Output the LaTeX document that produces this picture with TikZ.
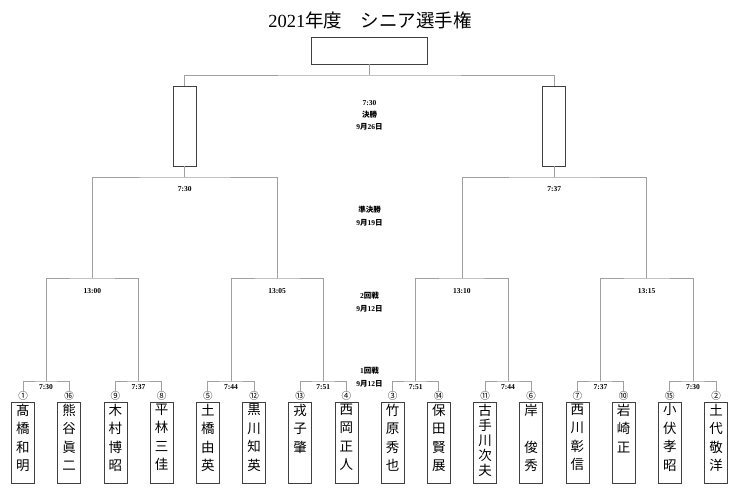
\documentclass[tikz,border=0pt]{standalone}
\usepackage{fontspec}
\setmainfont{Liberation Serif}
\newfontfamily\jp{Noto Sans CJK JP}
\usetikzlibrary{positioning}
\definecolor{linegray}{HTML}{A0A0A0}
\definecolor{boxgray}{HTML}{404040}
\newcommand\jpt[1]{{\jp #1}}
\tikzset{line/.style={draw=linegray,line width=0.7pt}}

\begin{document}
\begin{tikzpicture}[x=1pt,y=-1pt,
    playerbox/.style={draw=boxgray,line width=0.8pt,minimum width=23pt,minimum height=81pt,inner sep=0pt},
    namestack/.style={align=center,inner sep=0pt,font=\jp\fontsize{13.5}{18.5}\selectfont},
    seed/.style={inner sep=0pt,font=\jp\fontsize{9.5}{9.5}\selectfont},
    matchtime/.style={inner sep=0pt,font=\bfseries\fontsize{7.5}{8}\selectfont},
    roundinfo/.style={inner sep=0pt,font=\bfseries\fontsize{7.5}{8}\selectfont}]
  \useasboundingbox (0,0) rectangle (750,489);

  % title
  \node (title) at (370,20) {\fontsize{18.5}{20}\selectfont 2021\jpt{年度　シニア選手権}};

  % players
  \foreach \i/\sd/\nm in {1/①/{髙\\橋\\和\\明},2/⑯/{熊\\谷\\眞\\二},3/⑨/{木\\村\\博\\昭},4/⑧/{平\\林\\三\\佳},
      5/⑤/{土\\橋\\由\\英},6/⑫/{黒\\川\\知\\英},7/⑬/{戎\\子\\肇},8/④/{西\\岡\\正\\人},
      9/③/{竹\\原\\秀\\也},10/⑭/{保\\田\\賢\\展},11/⑪/{古\\[-3.5pt]手\\[-3.5pt]川\\[-3.5pt]次\\[-3.5pt]夫},12/⑥/{岸\\[18.5pt]俊\\秀},
      13/⑦/{西\\川\\彰\\信},14/⑩/{岩\\崎\\正},15/⑮/{小\\伏\\孝\\昭},16/②/{土\\代\\敬\\洋}}{
    \node[playerbox] (p\i) at ({23+46.2*(\i-1)},442.5) {};
    \node[namestack,below=2pt of p\i.north] (n\i) {\nm};
    \node[seed,above=0.8pt of p\i] (s\i) {\sd};
  }

  % match points
  \foreach \j in {1,...,8}
    \coordinate (a\j) at ({23+46.2*(2*\j-1.5)},381);
  \foreach \k in {1,...,4}
    \coordinate (b\k) at ({23+46.2*(4*\k-2.5)},278);
  \foreach \m in {1,2}
    \coordinate (c\m) at ({23+46.2*(8*\m-4.5)},177);
  \coordinate (d) at (369.5,75);

  \node[playerbox,minimum height=80pt] (f1) at (c1 |- 0,126) {};
  \node[playerbox,minimum height=80pt] (f2) at (c2 |- 0,126) {};
  \node[playerbox,minimum width=116pt,minimum height=27pt] (champ) at (369.5,50.5) {};

  % bracket
  \foreach \j in {1,...,8}{
    \pgfmathtruncatemacro\p{2*\j-1}
    \pgfmathtruncatemacro\q{2*\j}
    \draw[line] (s\p.north) |- (a\j) -| (s\q.north);
  }
  \foreach \k in {1,...,4}{
    \pgfmathtruncatemacro\p{2*\k-1}
    \pgfmathtruncatemacro\q{2*\k}
    \draw[line] (a\p) |- (b\k) -| (a\q);
  }
  \draw[line] (b1) |- (c1) -| (b2);
  \draw[line] (b3) |- (c2) -| (b4);
  \draw[line] (c1) -- (f1.south);
  \draw[line] (c2) -- (f2.south);
  \draw[line] (f1.north) |- (d) -| (f2.north);
  \draw[line] (d) -- (champ.south);

  % times
  \foreach \j/\t in {1/7:30,2/7:37,3/7:44,4/7:51,5/7:51,6/7:44,7/7:37,8/7:30}
    \node[matchtime,below=3pt of a\j] (t\j) {\t};
  \foreach \k/\t in {1/13:00,2/13:05,3/13:10,4/13:15}
    \node[matchtime,below=10pt of b\k] (u\k) {\t};
  \node[matchtime,below=9pt of c1] (v1) {7:30};
  \node[matchtime,below=9pt of c2] (v2) {7:37};

  % rounds
  \node[matchtime] (finaltime) at (369.5,103) {7:30};
  \node[roundinfo] (final) at (369.5,115) {\jpt{決勝}};
  \node[roundinfo] (finaldate) at (369.5,127) {9\jpt{月}26\jpt{日}};
  \node[roundinfo] (semi) at (369.5,210) {\jpt{準決勝}};
  \node[roundinfo] (semidate) at (369.5,223) {9\jpt{月}19\jpt{日}};
  \node[roundinfo] (second) at (369.5,296) {2\jpt{回戦}};
  \node[roundinfo] (seconddate) at (369.5,309) {9\jpt{月}12\jpt{日}};
  \node[roundinfo] (first) at (369.5,371) {1\jpt{回戦}};
  \node[roundinfo] (firstdate) at (369.5,384) {9\jpt{月}12\jpt{日}};
\end{tikzpicture}
\end{document}
